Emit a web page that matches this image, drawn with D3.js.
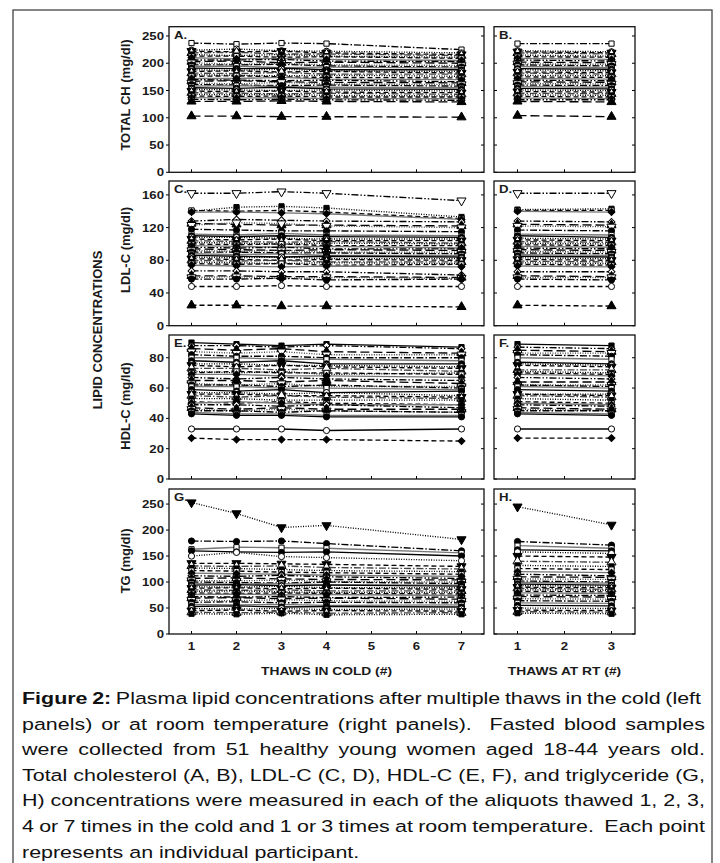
<!DOCTYPE html>
<html lang="en">
<head>
<meta charset="UTF-8">
<title>Figure 2</title>
<script src="https://cdn.jsdelivr.net/npm/d3@7"></script>
<style>
  body { margin: 0; background: #fff; }
  svg { display: block; }
  .lbl { font-family: "Liberation Sans", Arial, sans-serif; font-weight: bold; fill: #1a1a1a; }
  .cap { font-family: "Liberation Sans", Arial, sans-serif; font-size: 16.5px; white-space: pre; fill: #111; }
</style>
</head>
<body>
<script>
const coldThaws = [1, 2, 3, 4, 7]
const rtThaws = [1, 3]
const coldTicks = [1, 2, 3, 4, 5, 6, 7]
const rtTicks = [1, 2, 3]
const tcTicks = [0, 50, 100, 150, 200, 250]
const ldlTicks = [0, 40, 80, 120, 160]
const hdlTicks = [0, 20, 40, 60, 80]
const tgTicks = [0, 50, 100, 150, 200, 250]

// one row per participant: cold thaws 1,2,3,4,7 then room-temp thaws 1,3
const totalCh = [
  [237,235,237,236,225, 236,236],
  [224,226,223,222,219, 223,221],
  [222,221,222,219,216, 221,219],
  [219,220,217,217,214, 219,217],
  [216,214,216,213,211, 215,213],
  [213,213,211,212,209, 212,211],
  [210,208,209,207,205, 209,207],
  [206,206,207,204,203, 206,204],
  [203,204,201,202,200, 202,201],
  [201,198,200,197,196, 199,198],
  [197,197,198,195,193, 197,195],
  [194,195,192,193,191, 194,192],
  [191,190,191,188,188, 190,189],
  [188,187,189,186,185, 188,186],
  [185,186,184,185,182, 184,183],
  [182,181,183,180,180, 182,180],
  [179,178,177,178,176, 178,177],
  [176,177,175,174,173, 175,174],
  [172,172,174,171,170, 172,171],
  [170,169,168,169,166, 169,168],
  [167,168,166,165,164, 166,165],
  [164,162,165,162,161, 163,162],
  [161,160,159,160,158, 160,159],
  [158,159,157,156,155, 157,156],
  [155,154,156,153,152, 154,153],
  [152,151,150,151,149, 151,150],
  [149,148,149,147,146, 148,147],
  [146,145,144,145,143, 145,144],
  [143,142,143,141,140, 142,141],
  [140,139,140,138,138, 139,138],
  [137,136,137,135,135, 136,135],
  [134,133,134,133,132, 133,133],
  [130,130,131,130,129, 130,129],
  [103,103,102,102,101, 104,102]
]
const ldl = [
  [162,162,164,162,153, 162,162],
  [140,145,146,144,133, 142,143],
  [141,140,141,139,131, 141,141],
  [139,139,138,137,130, 140,139],
  [128,130,129,128,127, 128,127],
  [125,124,123,123,122, 124,123],
  [123,126,125,122,120, 122,121],
  [118,117,116,116,115, 117,116],
  [112,111,113,111,110, 112,111],
  [110,109,110,109,108, 110,108],
  [108,108,107,106,106, 107,106],
  [106,105,106,104,104, 105,104],
  [104,103,102,103,101, 103,102],
  [102,101,100,101,100, 101,100],
  [100,99,100,98,98, 99,98],
  [98,97,96,97,95, 97,96],
  [96,95,96,94,94, 95,94],
  [94,93,92,93,92, 93,92],
  [92,91,92,90,90, 91,90],
  [90,90,89,89,88, 89,88],
  [88,87,88,86,86, 87,86],
  [86,85,84,85,84, 85,84],
  [84,83,84,82,82, 83,82],
  [82,81,80,81,80, 81,80],
  [80,79,80,78,78, 79,78],
  [78,77,76,77,76, 77,76],
  [76,75,76,74,75, 75,74],
  [74,73,72,73,72, 73,72],
  [67,67,66,66,62, 66,66],
  [61,61,60,60,59, 61,60],
  [59,60,58,59,58, 59,59],
  [57,57,58,56,57, 57,56],
  [48,48,49,48,48, 48,48],
  [25,25,24,24,23, 25,24]
]
const hdl = [
  [90,89,88,89,87, 89,88],
  [88,88,87,88,86, 87,86],
  [86,85,86,84,83, 85,84],
  [84,83,84,82,82, 83,83],
  [82,81,81,80,80, 82,81],
  [80,80,79,79,78, 80,79],
  [78,77,78,76,76, 77,76],
  [76,76,75,75,74, 76,75],
  [75,74,75,74,73, 75,74],
  [73,73,72,73,71, 72,72],
  [71,70,71,69,70, 71,70],
  [70,71,70,70,69, 70,69],
  [69,69,68,68,67, 69,68],
  [67,66,67,66,65, 67,66],
  [65,65,64,65,63, 64,64],
  [63,62,63,61,61, 62,62],
  [62,62,61,62,60, 62,61],
  [61,61,60,60,59, 61,60],
  [59,58,59,57,58, 59,58],
  [57,57,56,57,55, 56,56],
  [56,56,55,55,54, 56,55],
  [55,54,55,54,53, 55,54],
  [53,53,52,52,52, 53,52],
  [51,50,51,50,49, 51,50],
  [50,51,50,49,49, 50,49],
  [49,49,48,49,47, 49,48],
  [47,46,47,46,46, 47,46],
  [46,45,46,45,44, 46,45],
  [45,45,44,45,44, 45,45],
  [44,43,43,42,42, 44,43],
  [43,42,42,41,41, 43,42],
  [33,33,33,32,33, 33,33],
  [27,26,26,26,25, 27,27]
]
const tg = [
  [253,232,205,209,182, 245,210],
  [179,178,179,174,160, 178,171],
  [163,167,166,165,156, 170,165],
  [160,158,157,158,150, 162,160],
  [150,157,149,147,141, 158,155],
  [136,136,135,134,130, 150,148],
  [131,130,131,128,125, 140,138],
  [127,126,124,122,120, 132,130],
  [122,121,119,118,115, 126,124],
  [117,116,115,113,111, 120,118],
  [112,111,113,110,107, 115,112],
  [107,108,106,105,104, 110,109],
  [103,102,104,101,100, 106,105],
  [100,99,98,100,97, 102,100],
  [97,96,97,95,94, 99,98],
  [94,95,93,94,92, 96,94],
  [91,90,92,89,89, 93,92],
  [88,89,87,88,86, 90,89],
  [85,84,85,83,83, 88,86],
  [82,83,81,80,80, 85,84],
  [79,78,79,78,77, 82,81],
  [76,77,75,76,74, 79,78],
  [72,71,72,70,71, 75,74],
  [69,70,68,69,67, 72,71],
  [65,64,66,64,63, 68,67],
  [61,62,60,61,60, 64,63],
  [57,56,57,55,56, 60,59],
  [53,54,52,53,52, 55,54],
  [49,48,49,47,48, 50,49],
  [45,46,44,45,44, 46,45],
  [42,41,42,40,41, 43,42],
  [39,38,40,37,38, 40,39]
]

const captionLines = [
  "Plasma lipid concentrations after multiple thaws in the cold (left",
  "panels) or at room temperature (right panels).  Fasted blood samples",
  "were collected from 51 healthy young women aged 18-44 years old.",
  "Total cholesterol (A, B), LDL-C (C, D), HDL-C (E, F), and triglyceride (G,",
  "H) concentrations were measured in each of the aliquots thawed 1, 2, 3,",
  "4 or 7 times in the cold and 1 or 3 times at room temperature.  Each point",
  "represents an individual participant."
]

const W = 720, H = 863
const svg = d3.select('body').append('svg').attr('width', W).attr('height', H)

svg.append('rect').attr('x', 13).attr('y', 10).attr('width', 699).attr('height', 880)
  .attr('fill', 'none').attr('stroke', '#444').attr('stroke-width', 1.3)

const xCold = d3.scaleLinear().domain([0.5, 7.5]).range([169, 484])
const xRT = d3.scaleLinear().domain([0.5, 3.5]).range([494, 635])

// the source picture is a little wider than tall, so horizontal text gets stretched
const textSx = 1.2
function stretchedText(sel, x, y, size, txt, anchor) {
  return sel.append('text').attr('class', 'lbl').attr('font-size', size)
    .attr('transform', `translate(${x},${y}) scale(${textSx},1)`)
    .attr('text-anchor', anchor || 'start').text(txt)
}

const dashes = { solid: null, dot: '1,1.5', dash: '5,3', long: '9,4', dd: '7,2,1.5,2', ddd: '7,2,1.5,2,1.5,2' }
const styleCycle = [
  { sym: 'circle', fill: '#000', dash: 'solid', col: '#000' },
  { sym: 'circle', fill: '#fff', dash: 'dot', col: '#000' },
  { sym: 'triDown', fill: '#000', dash: 'dash', col: '#000' },
  { sym: 'triUp', fill: '#fff', dash: 'dd', col: '#444' },
  { sym: 'square', fill: '#000', dash: 'dot', col: '#000' },
  { sym: 'square', fill: '#fff', dash: 'dash', col: '#000' },
  { sym: 'diamond', fill: '#000', dash: 'solid', col: '#777' },
  { sym: 'diamond', fill: '#fff', dash: 'ddd', col: '#000' },
  { sym: 'triUp', fill: '#000', dash: 'long', col: '#000' },
  { sym: 'triDown', fill: '#fff', dash: 'dot', col: '#444' },
  { sym: 'circle', fill: '#000', dash: 'dd', col: '#000' },
  { sym: 'square', fill: '#fff', dash: 'solid', col: '#777' }
]
const symGen = {
  circle: d3.symbol().type(d3.symbolCircle).size(30)(),
  square: d3.symbol().type(d3.symbolSquare).size(27)(),
  triUp: d3.symbol().type(d3.symbolTriangle).size(36)(),
  triDown: d3.symbol().type(d3.symbolTriangle).size(36)(),
  diamond: d3.symbol().type(d3.symbolSquare).size(24)()
}
const symRot = { triDown: 180, diamond: 45 }

const panels = [
  { left: 'A.', right: 'B.', title: 'TOTAL CH (mg/dl)', rows: totalCh, yMax: 267, ticks: tcTicks, top: 26.7, bottom: 172.3, titleY: 95,
    over: { 0: { sym: 'square', fill: '#fff', dash: 'dd', col: '#000' }, 33: styleCycle[8] } },
  { left: 'C.', right: 'D.', title: 'LDL-C (mg/dl)', rows: ldl, yMax: 177, ticks: ldlTicks, top: 181, bottom: 325.7, titleY: 250,
    over: { 0: { sym: 'triDown', fill: '#fff', dash: 'ddd', col: '#000' }, 32: { sym: 'circle', fill: '#fff', dash: 'dash', col: '#000' }, 33: { sym: 'triUp', fill: '#000', dash: 'dash', col: '#000' } } },
  { left: 'E.', right: 'F.', title: 'HDL-C (mg/ld)', rows: hdl, yMax: 95, ticks: hdlTicks, top: 335, bottom: 479, titleY: 406,
    over: { 0: { sym: 'square', fill: '#000', dash: 'solid', col: '#000' }, 31: { sym: 'circle', fill: '#fff', dash: 'solid', col: '#000' }, 32: { sym: 'diamond', fill: '#000', dash: 'dash', col: '#000' } } },
  { left: 'G.', right: 'H.', title: 'TG (mg/dl)', rows: tg, yMax: 279, ticks: tgTicks, top: 489, bottom: 634, titleY: 561,
    over: { 0: { sym: 'triDown', fill: '#000', dash: 'dot', col: '#000' } } }
]

const line = d3.line()

panels.forEach((p, pi) => {
  const y = d3.scaleLinear().domain([0, p.yMax]).range([p.bottom, p.top])
  const styleOf = i => p.over[i] || styleCycle[(i + pi * 3) % styleCycle.length]
  const isLast = pi === panels.length - 1

  ;[{ x: xCold, thaws: coldThaws, ticks: coldTicks, off: 0, name: p.left, main: true },
    { x: xRT, thaws: rtThaws, ticks: rtTicks, off: 5, name: p.right, main: false }].forEach(side => {
    const g = svg.append('g')
    const [x0, x1] = side.x.range()

    // y ticks: outward with labels on the left cold panels, inward elsewhere
    p.ticks.forEach(t => {
      const yy = y(t)
      if (side.main) {
        g.append('line').attr('x1', x0 - 3).attr('x2', x0).attr('y1', yy).attr('y2', yy).attr('stroke', '#000')
        stretchedText(g, x0 - 5, yy + 4, 11, t, 'end')
      } else {
        g.append('line').attr('x1', x0).attr('x2', x0 + 3).attr('y1', yy).attr('y2', yy).attr('stroke', '#000')
      }
      g.append('line').attr('x1', x1 - 3).attr('x2', x1).attr('y1', yy).attr('y2', yy).attr('stroke', '#000')
    })
    side.ticks.forEach(t => {
      g.append('line').attr('x1', side.x(t)).attr('x2', side.x(t)).attr('y1', p.bottom).attr('y2', p.bottom - 3).attr('stroke', '#000')
      if (isLast) stretchedText(g, side.x(t), 650, 11, t, 'middle')
    })

    // participant lines
    p.rows.forEach((r, i) => {
      const s = styleOf(i)
      const pts = side.thaws.map((t, k) => [side.x(t), y(r[side.off + k])])
      g.append('path').attr('d', line(pts)).attr('fill', 'none')
        .attr('stroke', s.col).attr('stroke-width', 1.35)
        .attr('stroke-dasharray', dashes[s.dash])
    })
    // participant markers on top
    p.rows.forEach((r, i) => {
      const s = styleOf(i)
      side.thaws.forEach((t, k) => {
        g.append('path').attr('d', symGen[s.sym])
          .attr('transform', `translate(${side.x(t)},${y(r[side.off + k])}) rotate(${symRot[s.sym] || 0})`)
          .attr('fill', s.fill).attr('stroke', '#000').attr('stroke-width', 1)
      })
    })

    g.append('rect').attr('x', x0).attr('y', p.top).attr('width', x1 - x0).attr('height', p.bottom - p.top)
      .attr('fill', 'none').attr('stroke', '#111').attr('stroke-width', 1.3)
    stretchedText(g, x0 + 5, p.top + 12, 11, side.name)
  })

  svg.append('text').attr('class', 'lbl').attr('font-size', 13)
    .attr('transform', `translate(130,${p.titleY}) rotate(-90)`)
    .attr('text-anchor', 'middle').text(p.title)
})

svg.append('text').attr('class', 'lbl').attr('font-size', 13)
  .attr('transform', 'translate(102,330) rotate(-90)')
  .attr('text-anchor', 'middle').text('LIPID CONCENTRATIONS')

stretchedText(svg, d3.mean(xCold.range()), 675, 11.5, 'THAWS IN COLD (#)', 'middle')
stretchedText(svg, d3.mean(xRT.range()), 675, 11.5, 'THAWS AT RT (#)', 'middle')

// caption: stretch horizontally so line 4 has natural spacing, then justify by word spacing
const capX = 22, capRight = 705
const probe = svg.append('text').attr('class', 'cap').text(captionLines[3])
const capSx = (capRight - capX) / probe.node().getComputedTextLength()
probe.remove()
captionLines.forEach((txt, i) => {
  const t = svg.append('text').attr('class', 'cap')
    .attr('transform', `translate(${capX},${704 + i * 25.6}) scale(${capSx},1)`)
  if (i === 0) {
    t.append('tspan').attr('font-weight', 'bold').text('Figure 2:')
    t.append('tspan').text(' ' + txt)
  } else {
    t.text(txt)
  }
  if (i < captionLines.length - 1) {
    const target = ((i === 0 ? capRight - 4 : capRight) - capX) / capSx
    const w = t.node().getComputedTextLength()
    const n = (t.text().match(/ /g) || []).length
    t.attr('word-spacing', (target - w) / n)
  }
})
</script>
</body>
</html>
